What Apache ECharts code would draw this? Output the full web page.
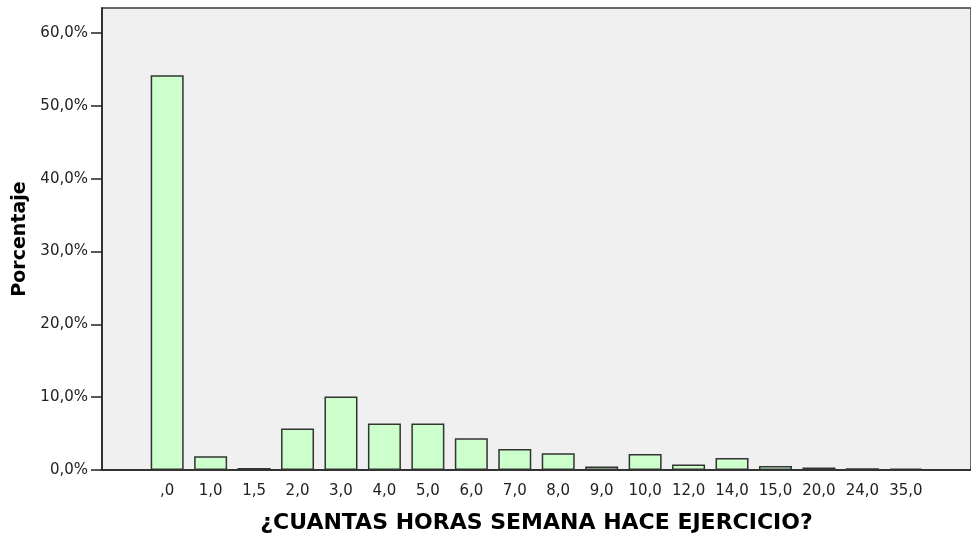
<!DOCTYPE html>
<html>
<head>
<meta charset="utf-8">
<script src="https://cdn.jsdelivr.net/npm/echarts@6/dist/echarts.min.js"></script>
<style>
  html, body { margin: 0; padding: 0; background: #fff; }
  #chart { width: 971px; height: 539px; }
</style>
</head>
<body>
<div id="chart"></div>
<script>
// horas de ejercicio por semana (categorías del eje X)
const horas = [',0', '1,0', '1,5', '2,0', '3,0', '4,0', '5,0', '6,0', '7,0', '8,0',
  '9,0', '10,0', '12,0', '14,0', '15,0', '20,0', '24,0', '35,0'];
// porcentaje de casos
const porcentaje = [54.2, 1.9, 0.27, 5.7, 10.1, 6.4, 6.4, 4.35, 2.9, 2.3,
  0.47, 2.2, 0.74, 1.64, 0.55, 0.33, 0.23, 0.2];
// marcas del eje Y
const ticksY = [0, 10, 20, 30, 40, 50, 60];

// SPSS deja un hueco a cada lado del eje de categorías
const ejeX = [''].concat(horas, ['']);
const valores = [null].concat(porcentaje, [null]);

const fuente = 'DejaVu Sans';
const fmtPct = v => v.toFixed(1).replace('.', ',') + '%';

const chart = echarts.init(document.getElementById('chart'));
chart.setOption({
  animation: false,
  grid: {
    left: 102,
    top: 8,
    width: 877,
    height: 462.7,
    show: true,
    backgroundColor: '#f0f0f0',
    borderColor: '#3a3a3a',
    borderWidth: 1.5
  },
  xAxis: {
    type: 'category',
    data: ejeX,
    name: '¿CUANTAS HORAS SEMANA HACE EJERCICIO?',
    nameLocation: 'middle',
    nameGap: 42,
    nameTextStyle: { fontFamily: fuente, fontWeight: 'bold', fontSize: 22, color: '#000' },
    axisLine: { lineStyle: { color: '#222', width: 1.5 } },
    axisTick: {
      alignWithLabel: true,
      length: 10,
      interval: (i, v) => v !== '',
      lineStyle: { color: '#222', width: 1.5 }
    },
    axisLabel: { interval: 0, margin: 14, fontFamily: fuente, fontSize: 15, color: '#222' },
    splitLine: { show: false }
  },
  yAxis: {
    type: 'value',
    min: 0,
    max: 63.43,
    interval: 10,
    name: 'Porcentaje',
    nameLocation: 'middle',
    nameGap: 70,
    nameTextStyle: { fontFamily: fuente, fontWeight: 'bold', fontSize: 19, color: '#000' },
    axisLine: { show: true, lineStyle: { color: '#222', width: 1.5 } },
    axisTick: { show: true, length: 11, customValues: ticksY, lineStyle: { color: '#222', width: 1.5 } },
    axisLabel: {
      customValues: ticksY,
      margin: 14,
      fontFamily: fuente,
      fontSize: 15,
      color: '#222',
      formatter: fmtPct
    },
    splitLine: { show: false }
  },
  series: [{
    type: 'bar',
    data: valores,
    barWidth: 33,
    itemStyle: { color: '#ccffcc', borderColor: '#333', borderWidth: 1.5 }
  }]
});
</script>
</body>
</html>
